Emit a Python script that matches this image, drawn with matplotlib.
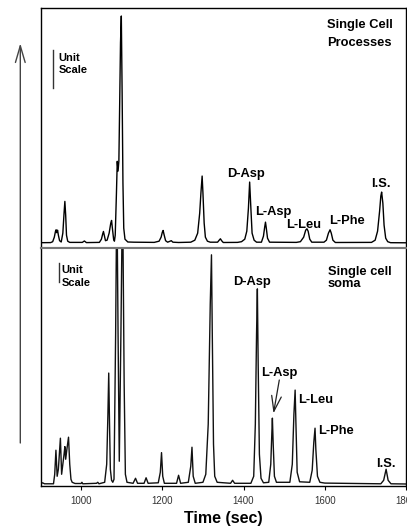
import matplotlib
matplotlib.use('Agg')
import matplotlib.pyplot as plt
from matplotlib.patches import FancyArrowPatch
from matplotlib.lines import Line2D

plt.rcParams['font.family'] = ['Liberation Sans', 'DejaVu Sans']

# Electropherogram traces (time in sec, signal in arbitrary units)
top_time = [900, 925, 930, 934, 937, 938.5, 940, 942, 944, 947, 951, 955, 958,
            960, 962, 964, 967, 972,
            1003, 1008, 1013,
            1045, 1050, 1053, 1055, 1057, 1060, 1064, 1069, 1073, 1075, 1077,
            1080, 1082, 1084, 1087, 1089, 1091, 1093, 1095, 1097, 1099, 1101,
            1103, 1105, 1108, 1115, 1130, 1180,
            1192, 1197, 1200, 1202, 1204, 1208, 1213, 1218, 1222, 1226, 1240,
            1270, 1280, 1287, 1292, 1295, 1298, 1300, 1303, 1306, 1311, 1318,
            1336, 1340, 1343, 1346, 1350,
            1385, 1395, 1403, 1408, 1412, 1415, 1418, 1421, 1426, 1432,
            1444, 1449, 1452, 1454, 1456, 1459, 1464,
            1530, 1540, 1548, 1553, 1556, 1559, 1563, 1568,
            1598, 1604, 1609, 1613, 1616, 1620, 1626,
            1715, 1724, 1730, 1735, 1738, 1740, 1743, 1746, 1750, 1755, 1762,
            1800]
top_signal = [0.5, 0.6, 1.5, 6, 12, 13.4, 10.5, 13, 8, 2.5, 1.2, 10, 30,
              41.7, 28, 8, 2, 0.8,
              0.8, 2.2, 0.6,
              0.8, 4, 9, 11.7, 8, 2.5, 3, 10, 20, 22.7, 15,
              4, 2, 8, 50, 81.7, 72, 82, 140, 200, 226.7, 150,
              60, 15, 4, 1.2, 1, 0.8,
              2, 6, 11, 12.7, 9, 2.5, 1, 1.8, 2.5, 1, 0.7,
              1, 3, 10, 30, 50, 67, 50, 20, 6, 2, 1,
              1, 3, 4.4, 2.5, 0.7,
              0.8, 1.5, 4, 12, 35, 61, 35, 10, 3, 1,
              1, 7, 16, 21, 15, 5, 1,
              0.8, 1.5, 6, 13, 14.4, 12, 4, 1,
              1, 3, 10, 13.4, 10, 3, 0.7,
              0.8, 3, 12, 32, 47, 51, 40, 18, 5, 1.5, 0.5,
              0.4]

bot_time = [900, 905, 910, 932, 935, 938, 941, 944, 949, 952, 955, 958,
            960, 962, 965, 969, 972, 975, 978, 985, 1000, 1002, 1004, 1038,
            1041, 1044, 1058, 1063, 1066, 1068, 1070, 1072, 1075, 1078, 1081,
            1085, 1088, 1091, 1094, 1098, 1102, 1106, 1109, 1113, 1128, 1134,
            1139, 1155, 1160, 1165, 1190, 1195, 1198, 1201, 1205, 1235, 1240,
            1245, 1264, 1270, 1273, 1276, 1281, 1300, 1307, 1313, 1318, 1321,
            1323, 1326, 1329, 1335, 1368, 1373, 1378, 1418, 1425, 1429, 1432,
            1434, 1436, 1439, 1443, 1449, 1462, 1467, 1470, 1471, 1473, 1476,
            1481, 1514, 1520, 1524, 1527, 1529, 1532, 1538, 1563, 1569, 1573,
            1576, 1578, 1582, 1588, 1600, 1738, 1745, 1751, 1756, 1763, 1800]
bot_signal = [0.5, 1.5, 0.5, 0.5, 10, 34, 8, 15, 46, 10, 20, 30,
              37.6, 25, 35, 47, 20, 5, 2, 0.8, 0.8, 2, 0.5, 1,
              2, 0.5, 2, 20, 70, 111, 60, 15, 4, 2, 5,
              150, 300, 150, 23, 150, 300, 100, 10, 2, 1, 6,
              1, 1, 6.5, 1, 1.5, 12, 31.6, 8, 1, 1, 9,
              1, 2, 18, 37, 8, 1, 2, 10, 60, 180, 229,
              150, 40, 8, 2, 1, 4, 1, 1, 8, 60, 150,
              195, 120, 30, 6, 1.5, 2, 20, 55, 66, 40, 8,
              2, 2, 20, 70, 94, 60, 12, 2.5, 2, 14, 42,
              56, 35, 8, 2, 1.2, 0.5, 4, 15, 4, 0.5, 0.3]

x_ticks = [1000, 1200, 1400, 1600, 1800]
x_label = 'Time (sec)'

W, H = 407, 530
fig = plt.figure(figsize=(W / 100, H / 100), dpi=100)


def fx(px):
    return px / W


def fy(py):
    return 1 - py / H


ax_top = fig.add_axes([fx(40.5), fy(247.5), fx(406) - fx(40.5), fy(8.3) - fy(247.5)])
ax_bot = fig.add_axes([fx(40.5), fy(486), fx(406) - fx(40.5), fy(247.5) - fy(486)])

ax_top.plot(top_time, top_signal, color='black', lw=1.0)
ax_bot.plot(bot_time, bot_signal, color='#111111', lw=1.0)

ax_top.set_xlim(900, 1800)
ax_top.set_ylim(-4.3, 234.4)
ax_bot.set_xlim(900, 1800)
ax_bot.set_ylim(-1.7, 236.3)

for ax in (ax_top, ax_bot):
    ax.set_yticks([])
    for s in ax.spines.values():
        s.set_linewidth(1.0)
ax_top.set_xticks([])
ax_top.spines['bottom'].set_color('#777777')
ax_top.spines['bottom'].set_linewidth(1.5)
ax_bot.spines['top'].set_color('#777777')
ax_bot.spines['top'].set_linewidth(1.5)

ax_bot.set_xticks(x_ticks)
ax_bot.set_xticklabels([str(t) for t in x_ticks])
ax_bot.tick_params(axis='x', direction='out', length=3, width=0.8, pad=4,
                   labelsize=7, labelcolor='#333333')

fig.text(fx(223), fy(523), x_label, ha='center', va='baseline',
         fontsize=11.5, fontweight='bold')

# texts: (label, left px, baseline px, size)
texts = [
    ('Single Cell', 326.7, 28.3, 9.3), ('Processes', 326.7, 45.7, 9.3),
    ('D-Asp', 226.7, 177.3, 9.3), ('L-Asp', 255, 215, 9.3),
    ('L-Leu', 286, 227.7, 9.3), ('L-Phe', 329.3, 224.3, 9.3),
    ('I.S.', 370.7, 187.3, 9.3),
    ('Unit', 58.3, 60.7, 8), ('Scale', 58.3, 73.3, 8),
    ('Single cell', 327.7, 275, 9.3), ('soma', 327.7, 287.3, 9.3),
    ('D-Asp', 233.3, 285, 9.3), ('L-Asp', 261, 376, 9.3),
    ('L-Leu', 297.7, 402.7, 9.3), ('L-Phe', 318.3, 434, 9.3),
    ('I.S.', 375.7, 466.7, 9.3),
    ('Unit', 61.7, 272.7, 8), ('Scale', 61.7, 286, 8),
]
for s, x, y, size in texts:
    fig.text(fx(x), fy(y), s, ha='left', va='baseline', fontsize=size,
             fontweight='bold')

# unit scale bars
fig.add_artist(Line2D([fx(53.3), fx(53.3)], [fy(50), fy(88.3)], color='#333333', lw=1))
fig.add_artist(Line2D([fx(59), fx(59)], [fy(262.7), fy(281.7)], color='#333333', lw=1))

# big left arrow
fig.add_artist(FancyArrowPatch((fx(20.3), fy(443)), (fx(20.3), fy(43.3)),
                               transform=fig.transFigure, arrowstyle='->,head_length=1.2,head_width=0.35',
                               mutation_scale=10, color='#444444', lw=1.0,
                               shrinkA=0, shrinkB=0))
# arrow to L-Asp
fig.add_artist(FancyArrowPatch((fx(279.3), fy(380)), (fx(273.5), fy(413.3)),
                               transform=fig.transFigure, arrowstyle='->,head_length=1.1,head_width=0.35',
                               mutation_scale=10, color='#222222', lw=0.9,
                               shrinkA=0, shrinkB=0))

fig.savefig('out.png', dpi=100)
